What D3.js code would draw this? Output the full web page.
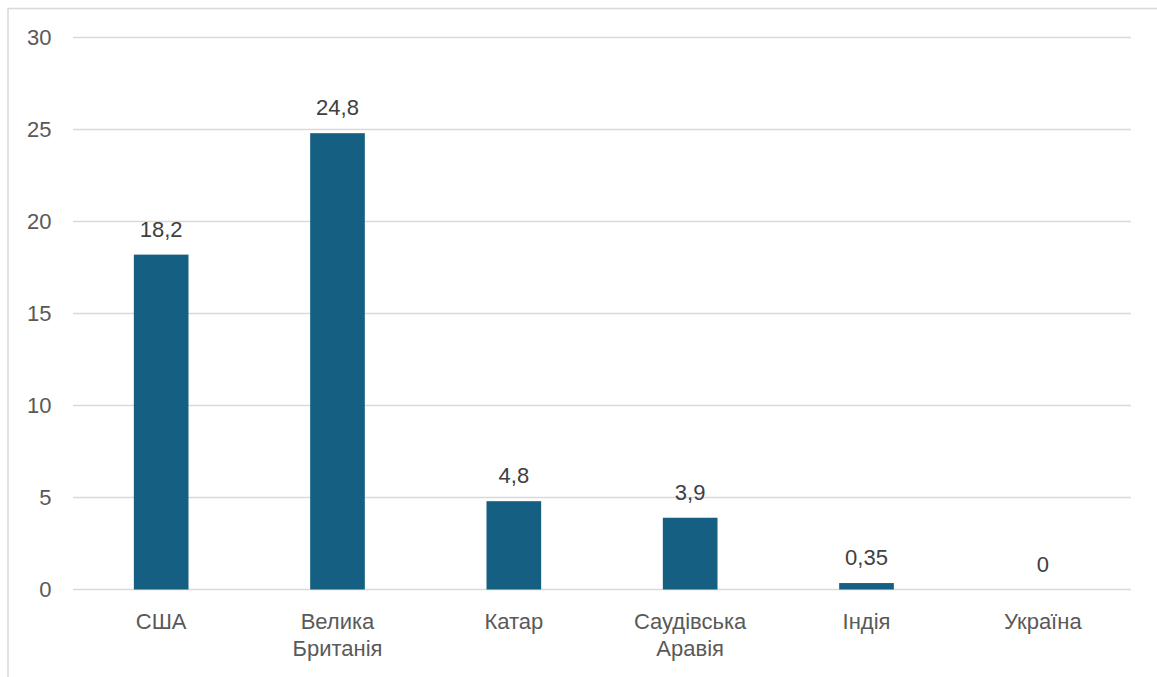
<!DOCTYPE html>
<html>
<head>
<meta charset="utf-8">
<script src="https://cdn.jsdelivr.net/npm/d3@7"></script>
<style>
  body { margin: 0; background: #fff; }
  text { font-family: "Liberation Sans", Arial, sans-serif; fill: #595959; }
</style>
</head>
<body>
<div id="chart"></div>
<script>
// data
let categories = [["США"], ["Велика", "Британія"], ["Катар"], ["Саудівська", "Аравія"], ["Індія"], ["Україна"]];
let values = [18.2, 24.8, 4.8, 3.9, 0.35, 0];
let valueLabels = ["18,2", "24,8", "4,8", "3,9", "0,35", "0"];
let yTicks = [0, 5, 10, 15, 20, 25, 30];

let W = 1157, H = 677;
let margin = { top: 37.5, right: 26, bottom: 87.5, left: 73 },
    width = W - margin.left - margin.right,
    height = H - margin.top - margin.bottom;

let root = d3.select("#chart")
    .append("svg")
    .attr("width", W)
    .attr("height", H);

// outer frame (clipped at right/bottom like the screenshot)
root.append("rect")
    .attr("x", 8).attr("y", 8.5)
    .attr("width", W).attr("height", H)
    .attr("fill", "none")
    .attr("stroke", "#d9d9d9")
    .attr("stroke-width", 1.5);

let svg = root.append("g")
    .attr("transform", "translate(" + margin.left + "," + margin.top + ")");

let x = d3.scaleBand()
    .domain(d3.range(categories.length))
    .range([0, width])
    .paddingInner(0.69)
    .paddingOuter(0.345);

let y = d3.scaleLinear()
    .domain([0, 30])
    .range([height, 0]);

// gridlines
svg.selectAll(".grid")
    .data(yTicks)
    .enter()
    .append("line")
    .attr("x1", 0)
    .attr("x2", width)
    .attr("y1", d => y(d))
    .attr("y2", d => y(d))
    .attr("stroke", "#d9d9d9")
    .attr("stroke-width", 1.5);

// y tick labels
svg.selectAll(".ylab")
    .data(yTicks)
    .enter()
    .append("text")
    .attr("x", -21.5)
    .attr("y", d => y(d))
    .attr("dy", "0.33em")
    .attr("text-anchor", "end")
    .style("font-size", "22px")
    .text(d => d);

// bars
svg.selectAll(".bar")
    .data(values)
    .enter()
    .append("rect")
    .attr("x", (d, i) => x(i))
    .attr("y", d => y(d))
    .attr("width", x.bandwidth())
    .attr("height", d => height - y(d))
    .attr("fill", "#156082");

// value labels
svg.selectAll(".vlab")
    .data(values)
    .enter()
    .append("text")
    .attr("x", (d, i) => x(i) + x.bandwidth() / 2)
    .attr("y", d => y(d) - 18)
    .attr("text-anchor", "middle")
    .style("font-size", "22px")
    .style("fill", "#404040")
    .text((d, i) => valueLabels[i]);

// category labels
let cat = svg.selectAll(".clab")
    .data(categories)
    .enter()
    .append("text")
    .attr("text-anchor", "middle")
    .attr("transform", (d, i) => "translate(" + (x(i) + x.bandwidth() / 2) + "," + (height + 39.5) + ")")
    .style("font-size", "22px");

cat.selectAll("tspan")
    .data(d => d)
    .enter()
    .append("tspan")
    .attr("x", 0)
    .attr("dy", (d, j) => j === 0 ? 0 : 26.5)
    .text(d => d);
</script>
</body>
</html>
